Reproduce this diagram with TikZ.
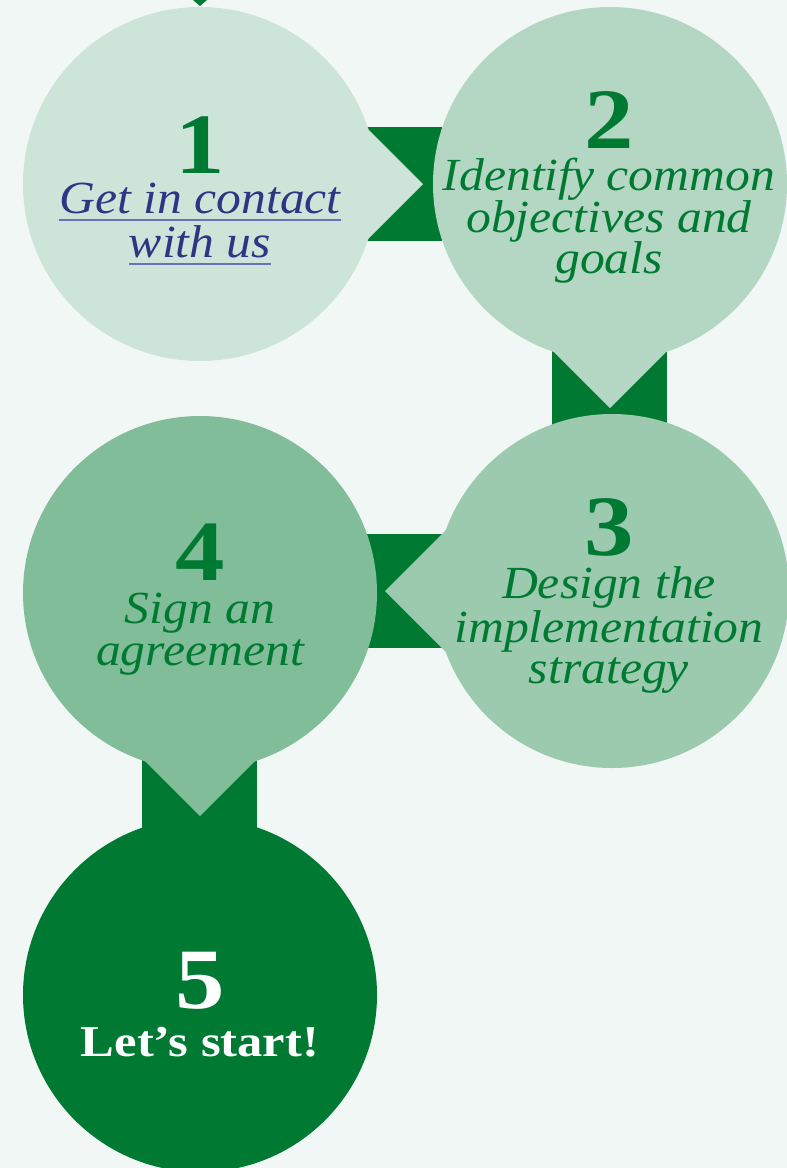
\documentclass[tikz,border=0pt]{standalone}
\usepackage{fontspec}
\setmainfont{Liberation Serif}
\newfontfamily\wideserif[FakeStretch=1.08]{Liberation Serif}
\newfontfamily\widebold[FakeStretch=1.15]{Liberation Serif}
\definecolor{bgc}{HTML}{F1F7F4}
\definecolor{cone}{HTML}{CDE5D8}
\definecolor{ctwo}{HTML}{B4D7C4}
\definecolor{cthree}{HTML}{9BCAAF}
\definecolor{cfour}{HTML}{80BD98}
\definecolor{dkg}{HTML}{007A33}
\definecolor{linkc}{HTML}{2B3784}
\definecolor{ulc}{HTML}{6673BC}
\begin{document}
\begin{tikzpicture}[x=1pt,y=-1pt,
  every node/.style={inner sep=0pt,outer sep=0pt},
  bubble/.style={circle,minimum size=354pt},
  numtxt/.style={anchor=base,text=dkg,text depth=0pt,font=\widebold\bfseries\fontsize{86}{86}\selectfont},
  desc/.style={anchor=base,text=dkg,text height=28pt,text depth=9pt,font=\wideserif\itshape\fontsize{46}{46}\selectfont},
  linktxt/.style={desc,text=linkc},
  bar/.style={fill=dkg}]
\fill[bgc] (0,0) rectangle (787,1168);
\useasboundingbox (0,0) rectangle (787,1168);
% incoming tip at top
\fill[dkg] (193,0) -- (207,0) -- (200,6) -- cycle;
% connector bars
\fill[bar] (367,127) rectangle (442,241);
\fill[bar] (552,340) rectangle (667,430);
\fill[bar] (360,534) rectangle (445,648);
\fill[bar] (142,760) rectangle (257,840);
% bubbles
\node[bubble,fill=cone] (c1) at (200,184) {};
\fill[cone] ([xshift=223pt]c1.center) -- ++(-100,-100) -- ++(0,200) -- cycle;
\node[bubble,fill=ctwo] (c2) at (610,184) {};
\fill[ctwo] ([yshift=-224pt]c2.center) -- ++(-100,-100) -- ++(200,0) -- cycle;
\node[bubble,fill=cthree] (c3) at (612,591) {};
\fill[cthree] ([xshift=-227pt]c3.center) -- ++(100,-100) -- ++(0,200) -- cycle;
\node[bubble,fill=cfour] (c4) at (200,593) {};
\fill[cfour] ([yshift=-223pt]c4.center) -- ++(-100,-100) -- ++(200,0) -- cycle;
\node[bubble,fill=dkg] (c5) at (200,995) {};
% texts
\node[numtxt] (n1) at (200,173) {1};
\node[linktxt] (l1a) at (200,213) {Get in contact};
\node[linktxt] (l1b) at (200,257) {with us};
\draw[ulc,line width=1.5pt] ([yshift=-7pt]l1a.base west) -- ([yshift=-7pt]l1a.base east);
\draw[ulc,line width=1.5pt] ([yshift=-7pt]l1b.base west) -- ([yshift=-7pt]l1b.base east);

\node[numtxt] (n2) at (609,148) {2};
\node[desc] (d2a) at (609,190) {Identify common};
\node[desc] (d2b) at (609,232) {objectives and};
\node[desc] (d2c) at (609,273) {goals};

\node[numtxt] (n3) at (609,555) {3};
\node[desc] (d3a) at (609,598) {Design the};
\node[desc] (d3b) at (609,642) {implementation};
\node[desc] (d3c) at (609,683) {strategy};

\node[numtxt] (n4) at (200,580) {4};
\node[desc] (d4a) at (200,623) {Sign an};
\node[desc] (d4b) at (200,665) {agreement};

\node[numtxt,text=white] (n5) at (200,1008) {5};
\node[anchor=base,text=white,font=\widebold\bfseries\fontsize{44}{44}\selectfont] (t5) at (200,1056) {Let’s start!};
\end{tikzpicture}
\end{document}
